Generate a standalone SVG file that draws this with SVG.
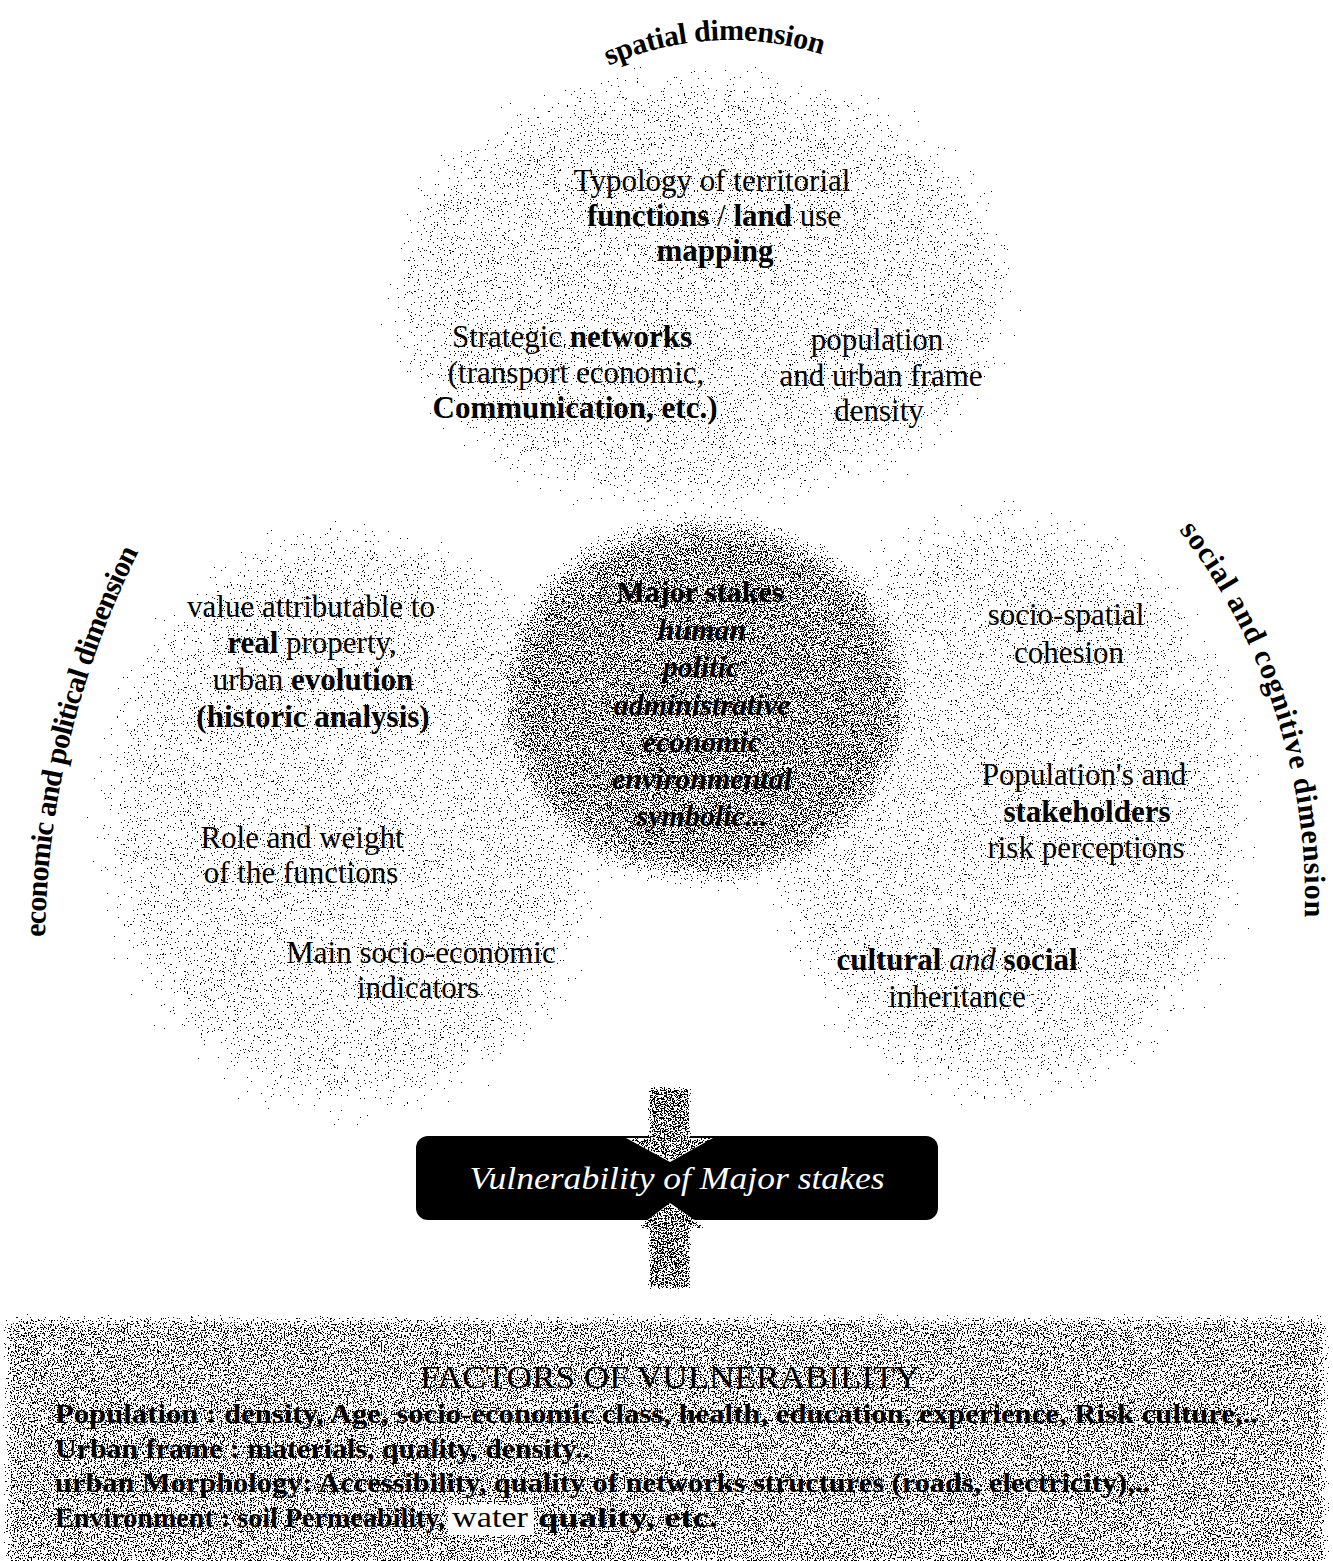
<svg xmlns="http://www.w3.org/2000/svg" width="1333" height="1561" viewBox="0 0 1333 1561">
<defs>
<style>
text{font-family:"Liberation Serif","Times New Roman",serif;fill:#000}
.t{font-size:31px;text-anchor:middle}
.b{font-weight:bold}
.c{font-size:30px;text-anchor:middle;font-weight:bold;font-style:italic}
.lab{font-size:30px;font-weight:bold}
.f{font-size:28px;font-weight:bold}
</style>
<filter id="stipL" x="-30%" y="-30%" width="160%" height="160%" color-interpolation-filters="sRGB">
  <feGaussianBlur in="SourceAlpha" stdDeviation="30" result="a"/>
  <feTurbulence type="fractalNoise" baseFrequency="0.7" numOctaves="2" seed="7" result="n0"/>
  <feComponentTransfer in="n0" result="n1"><feFuncR type="table" tableValues="0 0.002 0.012 0.052 0.161 0.363 0.613 0.822 0.94 0.986 1"/></feComponentTransfer>
  <feColorMatrix in="n1" type="matrix" values="0 0 0 0 0 0 0 0 0 0 0 0 0 0 0 1 0 0 0 0" result="n"/>
  <feComposite in="a" in2="n" operator="arithmetic" k1="0" k2="0.26" k3="1" k4="-1" result="s"/>
  <feComponentTransfer in="s"><feFuncA type="discrete" tableValues="0 1 1 1 1 1 1 1 1 1 1 1 1 1 1 1 1 1 1 1"/></feComponentTransfer>
</filter>
<filter id="stipC" x="-30%" y="-30%" width="160%" height="160%" color-interpolation-filters="sRGB">
  <feGaussianBlur in="SourceAlpha" stdDeviation="14" result="a"/>
  <feTurbulence type="fractalNoise" baseFrequency="0.7" numOctaves="2" seed="7" result="n0"/>
  <feComponentTransfer in="n0" result="n1"><feFuncR type="table" tableValues="0 0.002 0.012 0.052 0.161 0.363 0.613 0.822 0.94 0.986 1"/></feComponentTransfer>
  <feColorMatrix in="n1" type="matrix" values="0 0 0 0 0 0 0 0 0 0 0 0 0 0 0 1 0 0 0 0" result="n"/>
  <feComposite in="a" in2="n" operator="arithmetic" k1="0" k2="0.6" k3="1" k4="-1" result="s"/>
  <feComponentTransfer in="s"><feFuncA type="discrete" tableValues="0 1 1 1 1 1 1 1 1 1 1 1 1 1 1 1 1 1 1 1"/></feComponentTransfer>
</filter>
<filter id="stipB" x="-5%" y="-20%" width="110%" height="140%" color-interpolation-filters="sRGB">
  <feGaussianBlur in="SourceAlpha" stdDeviation="5" result="a"/>
  <feTurbulence type="fractalNoise" baseFrequency="0.7" numOctaves="2" seed="3" result="n0"/>
  <feComponentTransfer in="n0" result="n1"><feFuncR type="table" tableValues="0 0.002 0.012 0.052 0.161 0.363 0.613 0.822 0.94 0.986 1"/></feComponentTransfer>
  <feColorMatrix in="n1" type="matrix" values="0 0 0 0 0 0 0 0 0 0 0 0 0 0 0 1 0 0 0 0" result="n"/>
  <feComposite in="a" in2="n" operator="arithmetic" k1="0" k2="0.5" k3="1" k4="-1" result="s"/>
  <feComponentTransfer in="s"><feFuncA type="discrete" tableValues="0 1 1 1 1 1 1 1 1 1 1 1 1 1 1 1 1 1 1 1"/></feComponentTransfer>
</filter>
<filter id="stipA" x="-30%" y="-10%" width="160%" height="120%" color-interpolation-filters="sRGB">
  <feGaussianBlur in="SourceAlpha" stdDeviation="1.5" result="a"/>
  <feTurbulence type="fractalNoise" baseFrequency="0.7" numOctaves="2" seed="11" result="n0"/>
  <feComponentTransfer in="n0" result="n1"><feFuncR type="table" tableValues="0 0.002 0.012 0.052 0.161 0.363 0.613 0.822 0.94 0.986 1"/></feComponentTransfer>
  <feColorMatrix in="n1" type="matrix" values="0 0 0 0 0 0 0 0 0 0 0 0 0 0 0 1 0 0 0 0" result="n"/>
  <feComposite in="a" in2="n" operator="arithmetic" k1="0" k2="0.66" k3="1" k4="-1" result="s"/>
  <feComponentTransfer in="s"><feFuncA type="discrete" tableValues="0 1 1 1 1 1 1 1 1 1 1 1 1 1 1 1 1 1 1 1"/></feComponentTransfer>
</filter>
<path id="arcTop" d="M 615,63 A 300 300 0 0 1 845,63" transform="rotate(-3 730 340)"/>
<path id="arcLeft" d="M 45,945 A 890 890 0 0 1 142,545"/>
<path id="arcRight" d="M 1171,520 A 605 605 0 0 1 1304,935"/>
</defs>
<rect x="0" y="0" width="1333" height="1561" fill="#fff"/>

<g id="blobs">
  <g filter="url(#stipL)">
    <ellipse cx="700" cy="290" rx="320" ry="225"/>
    <ellipse cx="355" cy="820" rx="260" ry="300"/>
    <ellipse cx="1005" cy="805" rx="250" ry="300"/>
  </g>
  <ellipse id="centerBlob" cx="705" cy="700" rx="205" ry="180" filter="url(#stipC)"/>
</g>

<g id="node-spatial">
  <text class="lab"><textPath href="#arcTop" startOffset="50%" text-anchor="middle" textLength="218">spatial dimension</textPath></text>
  <text class="t" x="712" y="191">Typology  of territorial</text>
  <text class="t" x="714" y="226"><tspan class="b">functions</tspan> / <tspan class="b">land</tspan> use</text>
  <text class="t b" x="715" y="261">mapping</text>
  <text class="t" x="572" y="347">Strategic <tspan class="b">networks</tspan></text>
  <text class="t" x="576" y="383">(transport economic,</text>
  <text class="t b" x="575" y="418">Communication, etc.)</text>
  <text class="t" x="877" y="350">population</text>
  <text class="t" x="881" y="386">and urban frame</text>
  <text class="t" x="879" y="421">density</text>
</g>

<g id="node-economic">
  <text class="lab"><textPath href="#arcLeft" startOffset="8" textLength="400">economic and political dimension</textPath></text>
  <text class="t" x="311" y="617">value  attributable to</text>
  <text class="t" x="312" y="653"><tspan class="b">real</tspan> property,</text>
  <text class="t" x="313" y="690">urban <tspan class="b">evolution</tspan></text>
  <text class="t b" x="313" y="727">(historic analysis)</text>
  <text class="t" x="302" y="848">Role and weight</text>
  <text class="t" x="301" y="883">of the  functions</text>
  <text class="t" x="421" y="963">Main socio-economic</text>
  <text class="t" x="418" y="998">indicators</text>
</g>

<g id="node-social">
  <text class="lab"><textPath href="#arcRight" startOffset="13" textLength="415">social and cognitive dimension</textPath></text>
  <text class="t" x="1066" y="625">socio-spatial</text>
  <text class="t" x="1069" y="663">cohesion</text>
  <text class="t" x="1084" y="785">Population's and</text>
  <text class="t b" x="1087" y="822">stakeholders</text>
  <text class="t" x="1086" y="858">risk   perceptions</text>
  <text class="t" x="957" y="970"><tspan class="b">cultural</tspan> <tspan style="font-style:italic">and</tspan> <tspan class="b">social</tspan></text>
  <text class="t" x="957" y="1007">inheritance</text>
</g>

<g id="node-major">
  <text class="c" x="700" y="602" style="font-style:normal">Major stakes</text>
  <text class="c" x="702" y="640">human</text>
  <text class="c" x="701" y="677">politic</text>
  <text class="c" x="702" y="715">administrative</text>
  <text class="c" x="702" y="752">economic</text>
  <text class="c" x="702" y="789">environmental</text>
  <text class="c" x="702" y="826">symbolic...</text>
</g>

<g id="node-factors">
  <rect x="6" y="1318" width="1320" height="260" filter="url(#stipB)"/>
  <text x="670" y="1388" font-size="32" text-anchor="middle" textLength="500" lengthAdjust="spacingAndGlyphs">FACTORS OF VULNERABILITY</text>
  <text class="f" x="55" y="1423" textLength="1203" lengthAdjust="spacingAndGlyphs">Population : density, Age, socio-economic class, health, education, experience, Risk culture,..</text>
  <text class="f" x="55" y="1458" textLength="535" lengthAdjust="spacingAndGlyphs">Urban frame : materials, quality, density..</text>
  <text class="f" x="55" y="1492" textLength="1095" lengthAdjust="spacingAndGlyphs">urban Morphology: Accessibility, quality of  networks structures (roads, electricity),..</text>
  <text class="f" x="55" y="1527" textLength="390" lengthAdjust="spacingAndGlyphs">Environment : soil Permeability,</text>
  <rect x="448" y="1505" width="86" height="30" fill="#fff"/>
  <text x="452" y="1527" font-size="30" textLength="76" lengthAdjust="spacingAndGlyphs">water</text>
  <text class="f" x="538" y="1527" textLength="180" lengthAdjust="spacingAndGlyphs">quality, etc.</text>
</g>

<g id="node-vulnerability">
  <rect x="416" y="1136" width="522" height="84" rx="12" fill="#000"/>
  <text x="677" y="1189" font-size="32" text-anchor="middle" textLength="415" lengthAdjust="spacingAndGlyphs" style="fill:#fff;font-style:italic">Vulnerability of Major stakes</text>
</g>

<g id="connectors">
  <polygon points="649,1088 690,1088 690,1138 713,1138 670,1162 626,1138 649,1138" fill="#fff"/>
  <polygon points="649,1088 690,1088 690,1138 713,1138 670,1162 626,1138 649,1138" filter="url(#stipA)"/>
  <polygon points="670,1203 706,1228 690,1228 690,1288 649,1288 649,1228 637,1228" fill="#fff"/>
  <polygon points="670,1203 706,1228 690,1228 690,1288 649,1288 649,1228 637,1228" filter="url(#stipA)"/>
</g>
</svg>
